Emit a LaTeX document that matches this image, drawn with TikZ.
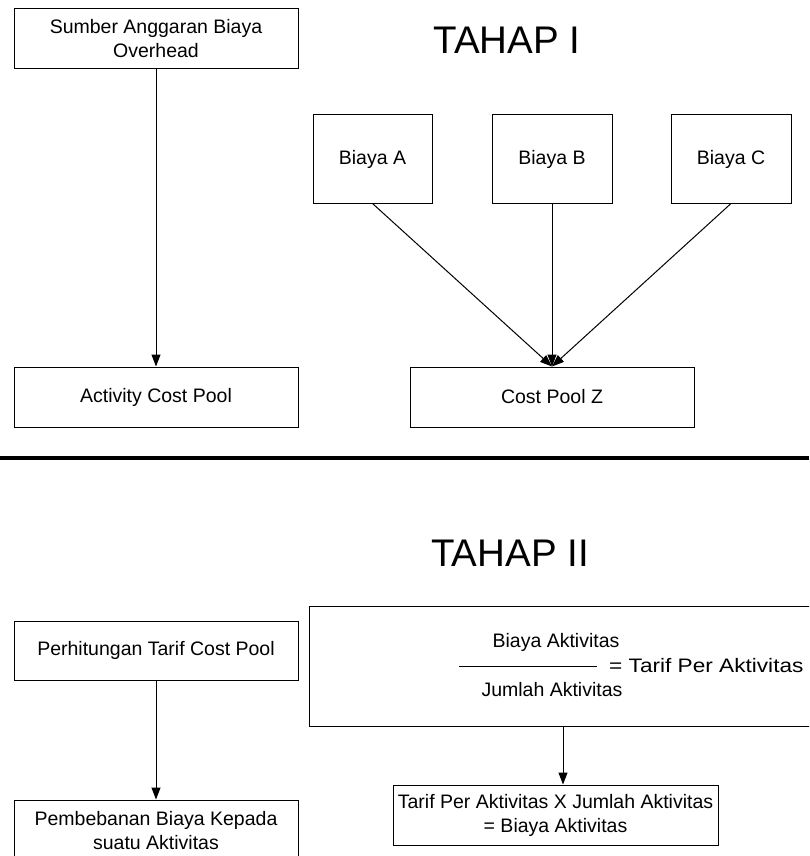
\documentclass[tikz,border=0pt]{standalone}
\usepackage{fontspec}
\setmainfont{Liberation Sans}
\usetikzlibrary{arrows.meta}
\begin{document}
\begin{tikzpicture}[x=1pt,y=-1pt,
  box/.style={draw, line width=1pt, inner sep=0pt, align=center,
              font=\fontsize{19.5}{24}\selectfont},
  lbl/.style={inner sep=0pt, font=\fontsize{19.5}{24}\selectfont},
  stage/.style={inner sep=0pt, font=\fontsize{38.5}{44}\selectfont},
  arr/.style={line width=1pt, -{Triangle[length=12pt,width=9pt]}},
]
\useasboundingbox (0,0) rectangle (809,856);
\fill[white] (0,0) rectangle (809,856);
\begin{scope}
\clip (0,0) rectangle (809,856);

% ---- Tahap I ----
\node[stage] (t1) at (507,40) {TAHAP I};
\node[box, minimum width=284pt, minimum height=60pt] (sumber) at (156,39)
  {Sumber Anggaran Biaya\\Overhead};
\node[box, minimum width=119pt, minimum height=88pt] (ba) at (372.5,159) {Biaya A};
\node[box, minimum width=120pt, minimum height=88pt] (bb) at (552,159) {Biaya B};
\node[box, minimum width=120pt, minimum height=88pt] (bc) at (731,159) {Biaya C};
\node[box, minimum width=284pt, minimum height=60pt] (acp) at (156,397) {Activity Cost Pool};
\node[box, minimum width=284pt, minimum height=60pt] (cpz) at (552,397) {Cost Pool Z};

\draw[arr] (sumber) -- (acp);
\draw[arr] (ba.south) -- (cpz.north);
\draw[arr] (bb.south) -- (cpz.north);
\draw[arr] (bc.south) -- (cpz.north);

% ---- separator ----
\coordinate (sepL) at (0,458);
\coordinate (sepR) at (809,458);
\draw[line width=3.5pt] (sepL) -- (sepR);

% ---- Tahap II ----
\node[stage] (t2) at (510,553) {TAHAP II};
\node[box, minimum width=284pt, minimum height=59pt] (hit) at (156,650.5) {Perhitungan Tarif Cost Pool};
\node[box, minimum width=522pt, minimum height=120pt] (rumus) at (570,666) {};
\node[lbl] (num) at (556,642) {Biaya Aktivitas};
\node[lbl] (den) at (552,690) {Jumlah Aktivitas};
\coordinate (fracL) at (459,666);
\coordinate (fracR) at (597,666);
\draw[line width=1pt] (fracL) -- (fracR);
\node[lbl, anchor=west, xscale=1.16] (hasil) at (609,666) {= Tarif Per Aktivitas};
\coordinate (rumusOut) at (563,726);

\node[box, minimum width=325pt, minimum height=60pt] (tarif) at (555.5,815)
  {Tarif Per Aktivitas X Jumlah Aktivitas\\= Biaya Aktivitas};
\node[box, minimum width=284pt, minimum height=60pt, text depth=0pt] (beban) at (156,830)
  {Pembebanan Biaya Kepada\\suatu Aktivitas};

\draw[arr] (hit) -- (beban);
\draw[arr] (rumusOut) -- (rumusOut |- tarif.north);
\end{scope}
\end{tikzpicture}
\end{document}
